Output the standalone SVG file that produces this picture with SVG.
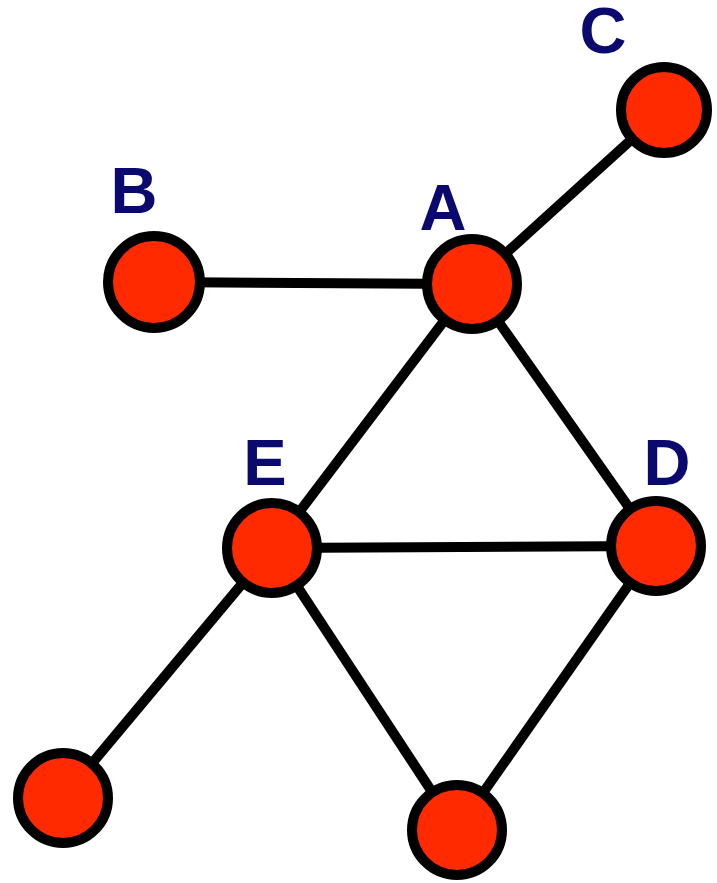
<svg xmlns="http://www.w3.org/2000/svg" width="717" height="883" viewBox="0 0 717 883">
<style>
.edge{stroke:#000;stroke-width:10;stroke-linecap:round}
.node{fill:#ff2a00;stroke:#000;stroke-width:10}
.lbl{font-family:"Liberation Sans",Arial,sans-serif;font-weight:bold;font-size:65px;fill:#0a0a6e;text-anchor:middle}
</style>
<rect width="717" height="883" fill="#fff"/>
<g id="connectors">
<line class="edge" x1="472" y1="284" x2="664" y2="110"/>
<line class="edge" x1="154" y1="282" x2="472" y2="284"/>
<line class="edge" x1="472" y1="284" x2="272" y2="548"/>
<line class="edge" x1="472" y1="284" x2="656" y2="546"/>
<line class="edge" x1="272" y1="548" x2="656" y2="546"/>
<line class="edge" x1="272" y1="548" x2="63" y2="798"/>
<line class="edge" x1="272" y1="548" x2="457" y2="830"/>
<line class="edge" x1="656" y1="546" x2="457" y2="830"/>
</g>
<g id="node-C"><circle class="node" cx="664" cy="110" r="43"/><text class="lbl" x="603" y="53">C</text></g>
<g id="node-B"><circle class="node" cx="154" cy="282" r="46"/><text class="lbl" x="134" y="213">B</text></g>
<g id="node-A"><circle class="node" cx="472" cy="284" r="45"/><text class="lbl" x="443" y="230">A</text></g>
<g id="node-E"><circle class="node" cx="272" cy="548" r="45"/><text class="lbl" x="265" y="485">E</text></g>
<g id="node-D"><circle class="node" cx="656" cy="546" r="45"/><text class="lbl" x="667" y="485">D</text></g>
<g id="node-F"><circle class="node" cx="63" cy="798" r="45"/></g>
<g id="node-G"><circle class="node" cx="457" cy="830" r="45"/></g>
</svg>
